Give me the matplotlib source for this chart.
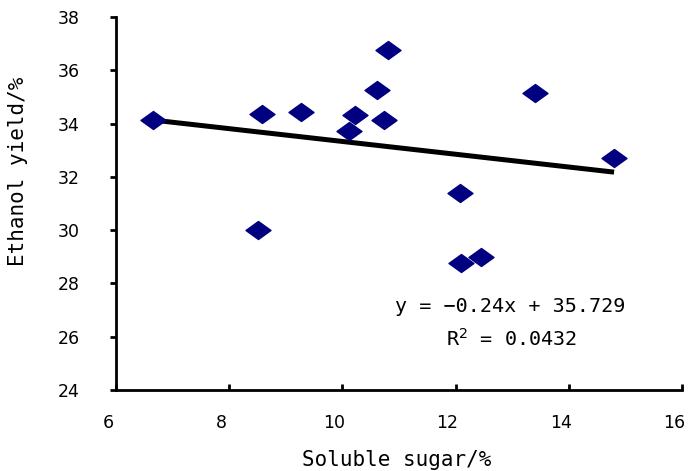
import matplotlib
matplotlib.use("Agg")
import matplotlib.pyplot as plt
import matplotlib.transforms as mtransforms
from matplotlib.path import Path
import numpy as np

# Data
soluble_sugar = [6.65, 8.58, 9.27, 8.51, 10.11, 10.23, 10.61, 10.80, 10.74, 13.40, 14.80, 12.07, 12.09, 12.44]
ethanol_yield = [34.13, 34.35, 34.43, 30.00, 33.73, 34.32, 35.25, 36.76, 34.13, 35.14, 32.72, 31.39, 28.75, 29.00]
slope = -0.24
intercept = 35.729
r_squared = "0.0432"
x_ticks = [6, 8, 10, 12, 14, 16]
y_ticks = [24, 26, 28, 30, 32, 34, 36, 38]

W, H = 690, 471
fig = plt.figure(figsize=(W/100, H/100), dpi=100)
ax = fig.add_axes([116/W, 1 - 390/H, (682-116)/W, (390-17)/H])

diamond = Path([(-1, 0), (0, 0.72), (1, 0), (0, -0.72), (-1, 0)],
               [Path.MOVETO, Path.LINETO, Path.LINETO, Path.LINETO, Path.CLOSEPOLY])
ax.plot(soluble_sugar, ethanol_yield, linestyle="none", marker=diamond,
        markersize=18, color="#000080", markeredgecolor="#000080", zorder=3)

xs = np.array([min(soluble_sugar), max(soluble_sugar)])
ax.plot(xs, slope * xs + intercept, color="black", linewidth=3.6, zorder=2,
        solid_capstyle="butt")

ax.set_xlim(6, 16)
ax.set_ylim(24, 38)
ax.set_xticks(x_ticks)
ax.set_yticks(y_ticks)
for s in ["top", "right"]:
    ax.spines[s].set_visible(False)
for s in ["left", "bottom"]:
    ax.spines[s].set_linewidth(2.0)

ax.tick_params(axis="y", direction="out", length=4, width=2, labelsize=12.5, pad=22)
ax.tick_params(axis="x", direction="in", length=4, width=2, labelsize=12.5, pad=17)
offset = mtransforms.ScaledTranslation(-8/100, 0, fig.dpi_scale_trans)
for lab in ax.get_xticklabels():
    lab.set_transform(lab.get_transform() + offset)

mono = "DejaVu Sans Mono"
ax.set_xlabel("Soluble sugar/%", family=mono, fontsize=15, va="center")
ax.xaxis.set_label_coords((397-116)/566, (390-460)/373)
ax.set_ylabel("Ethanol yield/%", family=mono, fontsize=15, va="center")
ax.yaxis.set_label_coords((18-116)/566, (390-171)/373)

fig.text(510/W, 1 - 307/H, f"y = {slope:.2f}x + {intercept}".replace("-", "\u2212"),
         family=mono, fontsize=14.5, ha="center", va="center")
fig.text(512/W, 1 - 339/H, f"R$^2$ = {r_squared}", family=mono, fontsize=14.5,
         ha="center", va="center")

fig.savefig("out.png", dpi=100)
